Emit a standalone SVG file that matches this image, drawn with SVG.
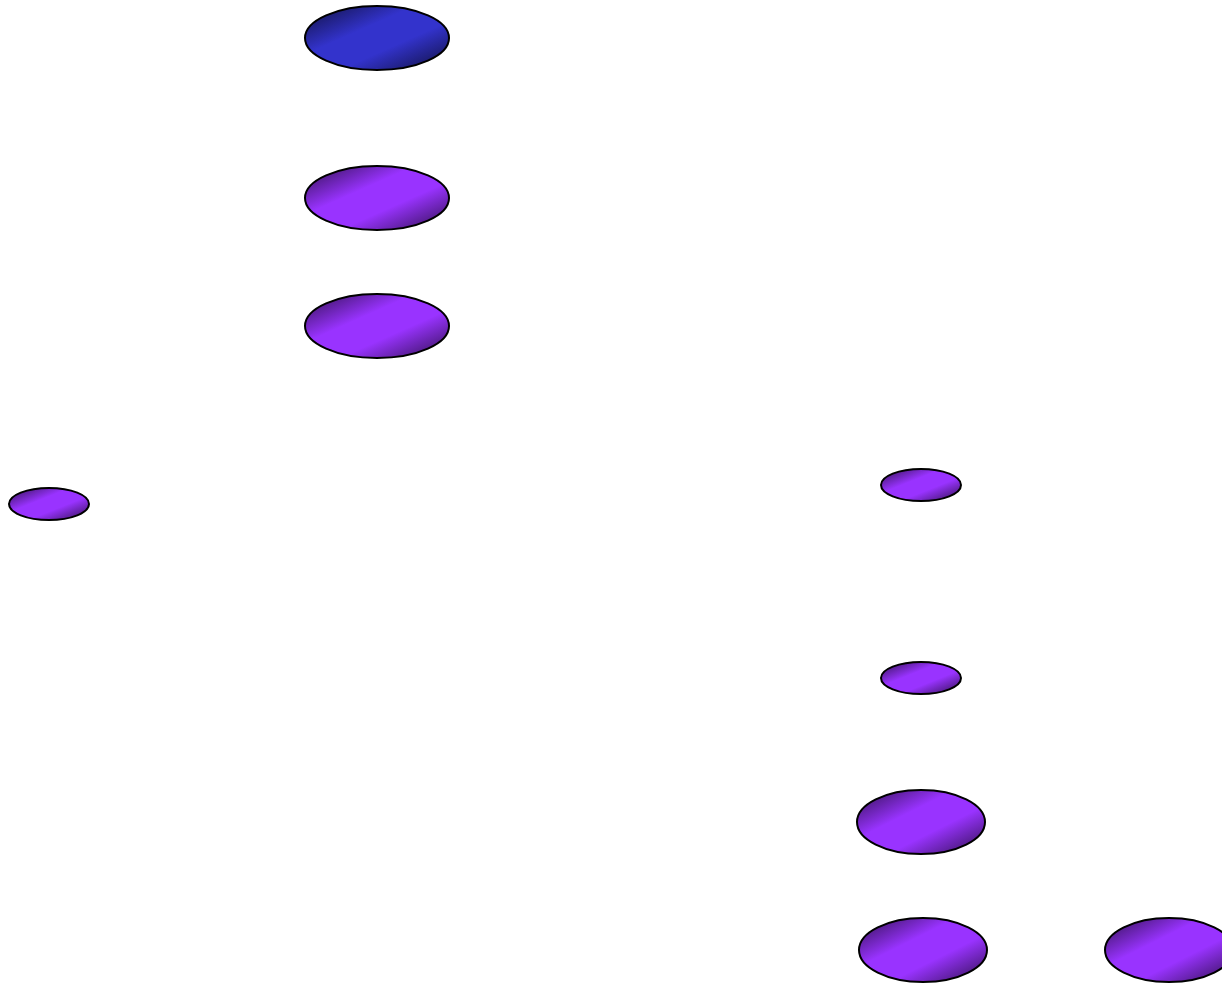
<svg xmlns="http://www.w3.org/2000/svg" width="1222" height="983" viewBox="0 0 1222 983">
  <defs>
    <linearGradient id="gBlue" x1="0" y1="0" x2="1" y2="1">
      <stop offset="0" stop-color="#0f0f3d"/>
      <stop offset="0.38" stop-color="#3333cc"/>
      <stop offset="0.62" stop-color="#3333cc"/>
      <stop offset="1" stop-color="#0f0f3d"/>
    </linearGradient>
    <linearGradient id="gPurple" x1="0" y1="0" x2="1" y2="1">
      <stop offset="0" stop-color="#2e0f4d"/>
      <stop offset="0.38" stop-color="#9933ff"/>
      <stop offset="0.62" stop-color="#9933ff"/>
      <stop offset="1" stop-color="#2e0f4d"/>
    </linearGradient>
    <style>
      .n { stroke: #000; stroke-width: 2; }
      .blue { fill: url(#gBlue); }
      .purple { fill: url(#gPurple); }
    </style>
  </defs>
  <rect width="1222" height="983" fill="#fff"/>
  <g id="connectors"></g>
  <g id="node1"><ellipse class="n blue" cx="377" cy="38" rx="72" ry="32"/></g>
  <g id="node2"><ellipse class="n purple" cx="377" cy="198" rx="72" ry="32"/></g>
  <g id="node3"><ellipse class="n purple" cx="377" cy="326" rx="72" ry="32"/></g>
  <g id="node4"><ellipse class="n purple" cx="49" cy="504" rx="40" ry="16"/></g>
  <g id="node5"><ellipse class="n purple" cx="921" cy="485" rx="40" ry="16"/></g>
  <g id="node6"><ellipse class="n purple" cx="921" cy="678" rx="40" ry="16"/></g>
  <g id="node7"><ellipse class="n purple" cx="921" cy="822" rx="64" ry="32"/></g>
  <g id="node8"><ellipse class="n purple" cx="923" cy="950" rx="64" ry="32"/></g>
  <g id="node9"><ellipse class="n purple" cx="1169" cy="950" rx="64" ry="32"/></g>
</svg>
